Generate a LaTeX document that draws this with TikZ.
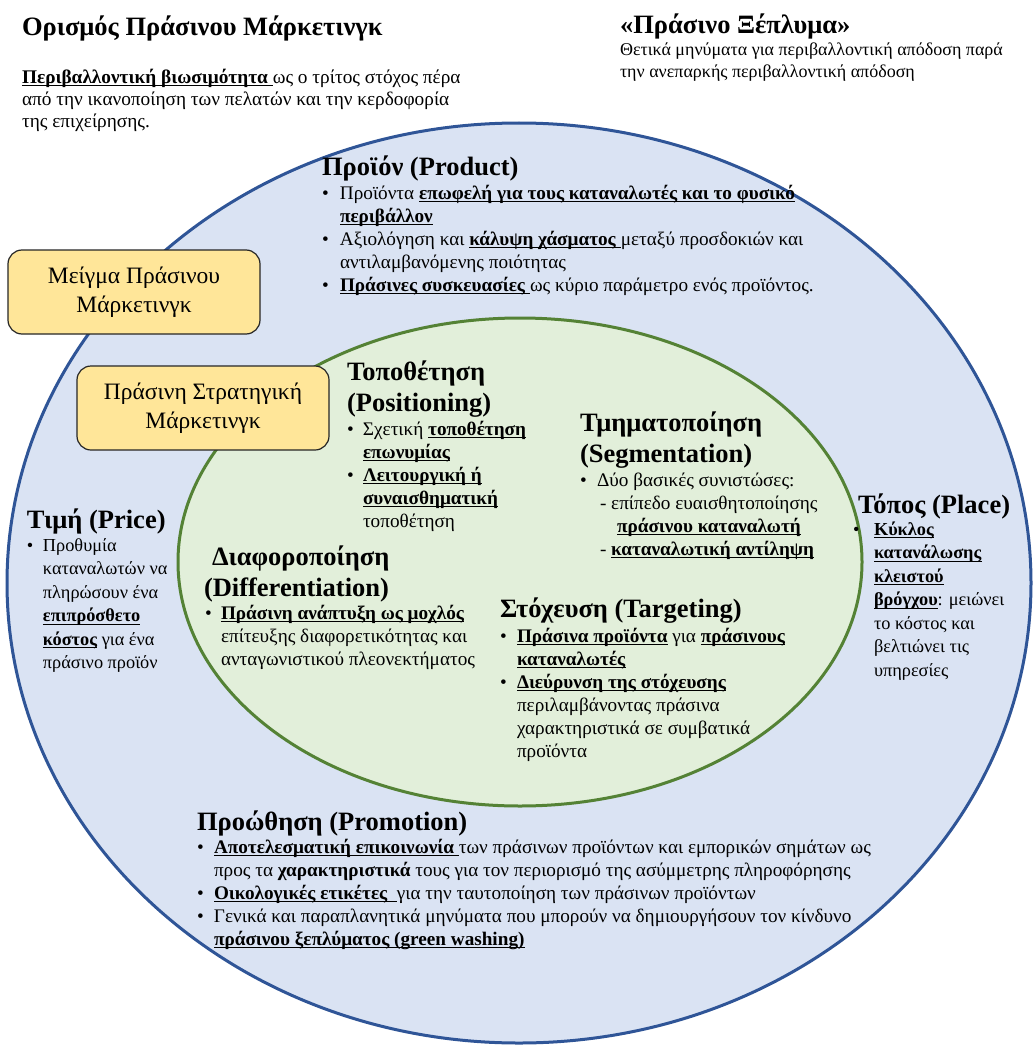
\documentclass[tikz,border=0pt]{standalone}
\usepackage{fontspec}
\setmainfont{Liberation Serif}

\definecolor{outerfill}{HTML}{DAE3F3}
\definecolor{outerline}{HTML}{2F5597}
\definecolor{innerfill}{HTML}{E2EFDA}
\definecolor{innerline}{HTML}{548235}
\definecolor{boxfill}{HTML}{FFE699}
\definecolor{boxline}{HTML}{262626}

% underline at a fixed depth below the baseline
\newsavebox\ulnbox
\newcommand\uln[1]{\leavevmode\sbox\ulnbox{#1}\rlap{\rule[-3pt]{\wd\ulnbox}{1.3pt}}\usebox\ulnbox}
% bold underlined key phrase
\newcommand\ub[1]{\uln{\textbf{#1}}}
% bullet in a fixed-width slot, and the matching hanging indent
\newcommand\bul[1]{\makebox[#1][l]{\textbullet}}
\newcommand\ind[1]{\hspace*{#1}}
\newcommand\headfont{\fontsize{26.5}{31}\selectfont\bfseries}
\newcommand\bodyfont{\fontsize{19.2}{23}\selectfont}
\newcommand\sidefont{\fontsize{18.3}{23.5}\selectfont}
\newcommand\boxfont{\fontsize{23.5}{29.5}\selectfont}

\begin{document}
\begin{tikzpicture}[x=1pt,y=-1pt,
  every node/.style={inner sep=0pt,outer sep=0pt},
  heading/.style={anchor=north west,align=left,font=\headfont},
  body/.style={anchor=north west,align=left,font=\bodyfont},
  side/.style={anchor=north west,align=left,font=\sidefont},
  tagbox/.style={draw=boxline,line width=1.2pt,fill=boxfill,rounded corners=14pt,
    align=center,font=\boxfont,minimum width=252pt,minimum height=84pt}]
\useasboundingbox (0,0) rectangle (1033,1046);

% marketing mix (outer) and strategic marketing (inner) areas
\draw[fill=outerfill,draw=outerline,line width=3pt] (519,583) ellipse [x radius=512pt,y radius=460pt];
\draw[fill=innerfill,draw=innerline,line width=3pt] (520,562) ellipse [x radius=342pt,y radius=244pt];

% area labels
\node[tagbox] (mix) at (134,292) {Μείγμα Πράσινου\\Μάρκετινγκ};
\node[tagbox] (strategy) at (203,408) {Πράσινη Στρατηγική\\Μάρκετινγκ};

% definition
\node[heading] (deftitle) at (22,16) {Ορισμός Πράσινου Μάρκετινγκ};
\node[body,font=\fontsize{19.3}{22}\selectfont] (deftext) at (22,68) {\strut\uln{\textbf{Περιβαλλοντική βιωσιμότητα }}ως ο τρίτος στόχος πέρα\\
  από την ικανοποίηση των πελατών και την κερδοφορία\\
  της επιχείρησης.};

% green washing
\node[heading] (washtitle) at (620,14) {«Πράσινο Ξέπλυμα»};
\node[body,font=\fontsize{18}{22}\selectfont] (washtext) at (620,40) {\strut Θετικά μηνύματα για περιβαλλοντική απόδοση παρά\\
  την ανεπαρκής περιβαλλοντική απόδοση};

% product
\node[heading] (prodtitle) at (322,156) {Προϊόν (Product)};
\node[body] (prodtext) at (322,183) {\strut\bul{18pt}Προϊόντα \ub{επωφελή για τους καταναλωτές και το φυσικό}\\
  \ind{18pt}\ub{περιβάλλον}\\
  \bul{18pt}Αξιολόγηση και \ub{κάλυψη χάσματος }μεταξύ προσδοκιών και\\
  \ind{18pt}αντιλαμβανόμενης ποιότητας\\
  \bul{18pt}\ub{Πράσινες συσκευασίες }ως κύριο παράμετρο ενός προϊόντος.};

% positioning
\node[heading] (postitle) at (347,361) {Τοποθέτηση\\(Positioning)};
\node[body] (postext) at (347,419) {\strut\bul{16pt}Σχετική \ub{τοποθέτηση}\\
  \ind{16pt}\ub{επωνυμίας}\\
  \bul{16pt}\ub{Λειτουργική ή}\\
  \ind{16pt}\ub{συναισθηματική}\\
  \ind{16pt}τοποθέτηση};

% segmentation
\node[heading] (segtitle) at (580,412) {Τμηματοποίηση\\(Segmentation)};
\node[body] (segtext) at (580,470) {\strut\bul{17pt}Δύο βασικές συνιστώσες:\\
  \ind{20pt}- επίπεδο ευαισθητοποίησης\\
  \ind{37pt}\ub{πράσινου καταναλωτή}\\
  \ind{20pt}- \ub{καταναλωτική αντίληψη}};

% differentiation
\node[heading] (diftitle) at (204,546) {\ind{8pt}Διαφοροποίηση\\(Differentiation)};
\node[body] (diftext) at (205,603) {\strut\bul{16pt}\ub{Πράσινη ανάπτυξη ως μοχλός}\\
  \ind{16pt}επίτευξης διαφορετικότητας και\\
  \ind{16pt}ανταγωνιστικού πλεονεκτήματος};

% targeting
\node[heading] (targtitle) at (500,598) {Στόχευση (Targeting)};
\node[body] (targtext) at (500,626) {\strut\bul{17pt}\ub{Πράσινα προϊόντα} για \ub{πράσινους}\\
  \ind{17pt}\ub{καταναλωτές}\\
  \bul{17pt}\ub{Διεύρυνση της στόχευσης}\\
  \ind{17pt}περιλαμβάνοντας πράσινα\\
  \ind{17pt}χαρακτηριστικά σε συμβατικά\\
  \ind{17pt}προϊόντα};

% price
\node[heading] (pricetitle) at (27,509) {Τιμή (Price)};
\node[side] (pricetext) at (27,535) {\strut\bul{16pt}Προθυμία\\
  \ind{16pt}καταναλωτών να\\
  \ind{16pt}πληρώσουν ένα\\
  \ind{16pt}\ub{επιπρόσθετο}\\
  \ind{16pt}\ub{κόστος} για ένα\\
  \ind{16pt}πράσινο προϊόν};

% place
\node[heading] (placetitle) at (858,494) {Τόπος (Place)};
\node[side] (placetext) at (853,519) {\strut\bul{21pt}\ub{Κύκλος}\\
  \ind{21pt}\ub{κατανάλωσης}\\
  \ind{21pt}\ub{κλειστού}\\
  \ind{21pt}\ub{βρόγχου}: μειώνει\\
  \ind{21pt}το κόστος και\\
  \ind{21pt}βελτιώνει τις\\
  \ind{21pt}υπηρεσίες};

% promotion
\node[heading] (promtitle) at (197,811) {Προώθηση (Promotion)};
\node[body] (promtext) at (197,837) {\strut\bul{17pt}\ub{Αποτελεσματική επικοινωνία }των πράσινων προϊόντων και εμπορικών σημάτων ως\\
  \ind{17pt}προς τα \textbf{χαρακτηριστικά} τους για τον περιορισμό της ασύμμετρης πληροφόρησης\\
  \bul{17pt}\ub{Οικολογικές ετικέτες\ \ }για την ταυτοποίηση των πράσινων προϊόντων\\
  \bul{17pt}Γενικά και παραπλανητικά μηνύματα που μπορούν να δημιουργήσουν τον κίνδυνο\\
  \ind{17pt}\ub{πράσινου ξεπλύματος (green washing)}};
\end{tikzpicture}
\end{document}
